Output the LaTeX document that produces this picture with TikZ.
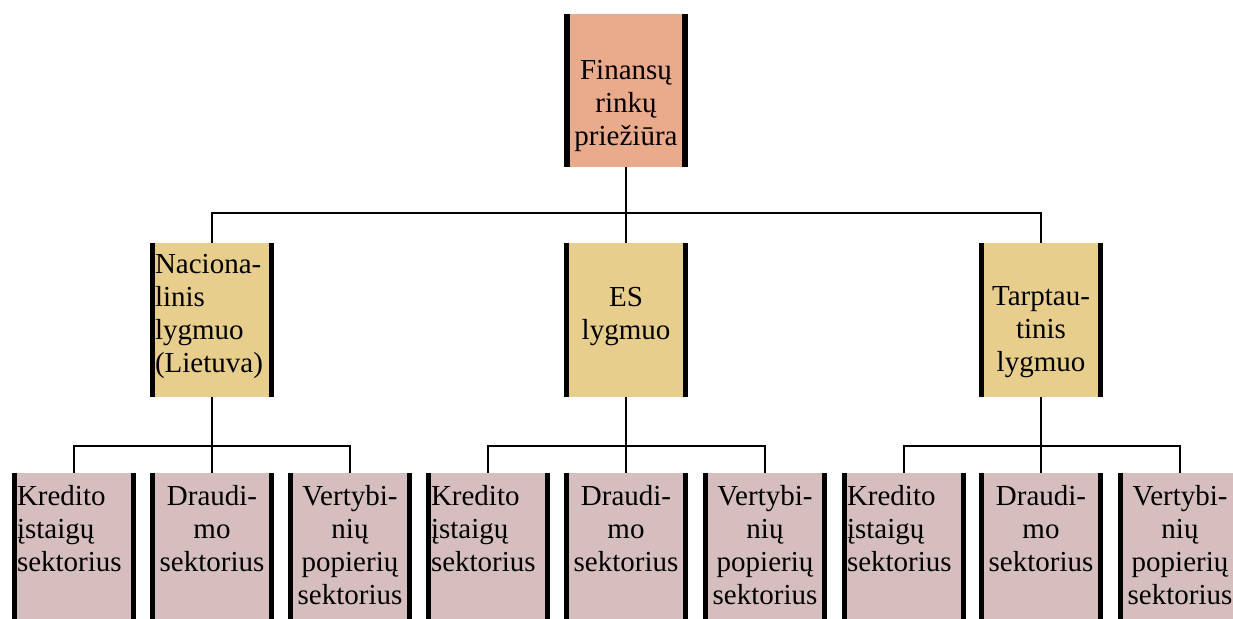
\documentclass[tikz,border=0pt]{standalone}
\usepackage{fontspec}
\newfontfamily\boxfont{LiberationSerif}[Extension=.ttf, UprightFont=*-Regular]
\definecolor{topfill}{RGB}{234,170,140}
\definecolor{levelfill}{RGB}{231,206,140}
\definecolor{sectorfill}{RGB}{214,190,190}
\tikzset{
	box/.style={rectangle, inner sep=0pt, minimum width=124pt},
	bar/.style={line width=5.5pt, color=black},
	link/.style={line width=1.6pt, color=black},
	boxtext/.style={inner sep=0pt, text width=114pt, anchor=north, font=\boxfont\fontsize{29}{33}\selectfont}
}
\def\bars#1{\draw[bar] ([xshift=2.75pt]#1.north west) -- ([xshift=2.75pt]#1.south west);
	\draw[bar] ([xshift=-2.75pt]#1.north east) -- ([xshift=-2.75pt]#1.south east);}

\begin{document}
\begin{tikzpicture}[x=1pt, y=-1pt]
			%%%%% START %%%%%
			\useasboundingbox (0, 0) rectangle (1233, 618);
			
			% top
			\node[box, fill=topfill, minimum width=123pt, minimum height=153pt] (fin) at (626, 90.5) {};
			\bars{fin}
			\node[boxtext, align=center] (finT) at ([yshift=-46pt]fin.north) {Finansų\\rinkų\\priežiūra};
			
			% levels
			\node[box, fill=levelfill, minimum height=154pt] (nat) at (212, 320) {};
			\node[box, fill=levelfill, minimum height=154pt] (es) at (626, 320) {};
			\node[box, fill=levelfill, minimum height=154pt] (int) at (1041, 320) {};
			\bars{nat} \bars{es} \bars{int}
			\node[boxtext, align=left] (natT) at ([yshift=-11pt]nat.north) {Naciona-\\linis\\lygmuo\\(Lietuva)};
			\node[boxtext, align=center] (esT) at ([yshift=-44pt]es.north) {ES\\lygmuo};
			\node[boxtext, align=center] (intT) at ([yshift=-44pt]int.north) {Tarptau-\\tinis\\lygmuo};
			
			% sectors
			\node[box, fill=sectorfill, minimum height=148pt] (kre1) at (74, 547) {};
			\node[box, fill=sectorfill, minimum height=148pt] (dra1) at (212, 547) {};
			\node[box, fill=sectorfill, minimum height=148pt] (ver1) at (350, 547) {};
			\node[box, fill=sectorfill, minimum height=148pt] (kre2) at (488, 547) {};
			\node[box, fill=sectorfill, minimum height=148pt] (dra2) at (626, 547) {};
			\node[box, fill=sectorfill, minimum height=148pt] (ver2) at (765, 547) {};
			\node[box, fill=sectorfill, minimum height=148pt] (kre3) at (904, 547) {};
			\node[box, fill=sectorfill, minimum height=148pt] (dra3) at (1041, 547) {};
			\node[box, fill=sectorfill, minimum height=148pt] (ver3) at (1180, 547) {};
			\bars{kre1} \bars{dra1} \bars{ver1}
			\bars{kre2} \bars{dra2} \bars{ver2}
			\bars{kre3} \bars{dra3} \bars{ver3}
			\foreach \g in {1, 2, 3} {
				\node[boxtext, align=left] (kreT\g) at ([yshift=-12pt]kre\g.north) {Kredito\\įstaigų\\sektorius};
				\node[boxtext, align=center] (draT\g) at ([yshift=-12pt]dra\g.north) {Draudi-\\mo\\sektorius};
				\node[boxtext, align=center] (verT\g) at ([yshift=-12pt]ver\g.north) {Vertybi-\\nių\\popierių\\sektorius};
			}
			
			% links
			\coordinate (bus0) at (626, 213);
			\coordinate (bus1) at (212, 446);
			\coordinate (bus2) at (626, 446);
			\coordinate (bus3) at (1041, 446);
			\draw[link] (fin.south) -- (es.north);
			\draw[link] (nat.north) |- (bus0) -| (int.north);
			\draw[link] (nat.south) -- (dra1.north);
			\draw[link] (kre1.north) |- (bus1) -| (ver1.north);
			\draw[link] (es.south) -- (dra2.north);
			\draw[link] (kre2.north) |- (bus2) -| (ver2.north);
			\draw[link] (int.south) -- (dra3.north);
			\draw[link] (kre3.north) |- (bus3) -| (ver3.north);
			
			%%%%% END %%%%%
		\end{tikzpicture}
\end{document}
